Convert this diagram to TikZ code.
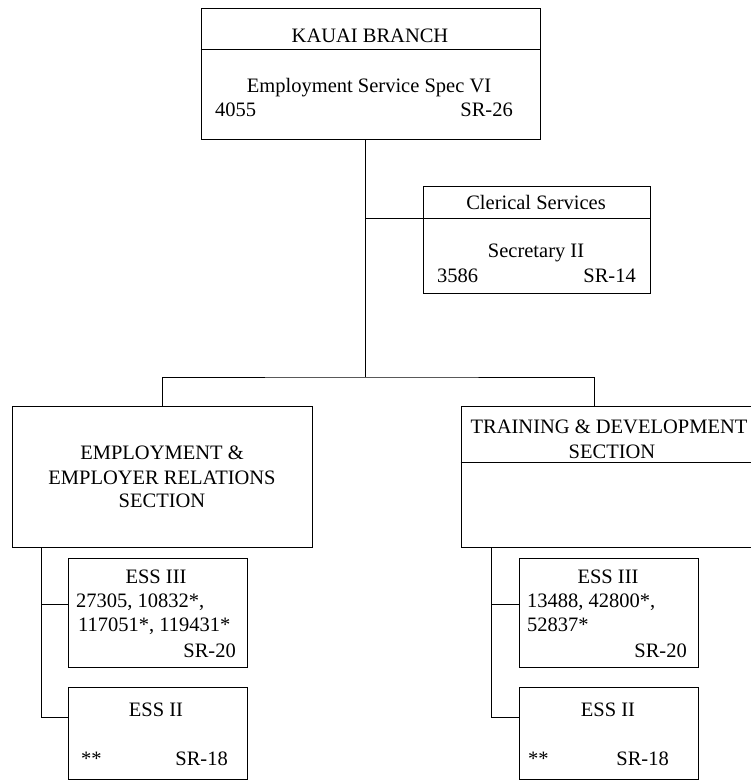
\documentclass[tikz,border=0pt]{standalone}
\usepackage{fontspec}
\setmainfont{Liberation Serif}
\begin{document}
\begin{tikzpicture}[x=1pt,y=-1pt,
  box/.style={draw, line width=0.9pt, inner sep=0pt, rectangle},
  conn/.style={line width=0.9pt},
  txt/.style={inner sep=0pt, font=\fontsize{20.5}{24}\selectfont}]
\useasboundingbox (0,0) rectangle (751,781);
\clip (0,0) rectangle (751,781);
% boxes
\node[box, minimum width=339pt, minimum height=131pt] (top) at (370.5,73.5) {};
\node[box, minimum width=227pt, minimum height=107pt] (cler) at (536.5,239.5) {};
\node[box, minimum width=300pt, minimum height=141pt] (lsec) at (162,476.5) {};
\node[box, minimum width=300pt, minimum height=141pt] (rsec) at (611,476.5) {};
\node[box, minimum width=179pt, minimum height=109pt] (l3) at (157.5,612.5) {};
\node[box, minimum width=179pt, minimum height=92pt] (l2) at (157.5,733) {};
\node[box, minimum width=179pt, minimum height=109pt] (r3) at (608.5,612.5) {};
\node[box, minimum width=179pt, minimum height=92pt] (r2) at (608.5,733) {};
% divider levels
\coordinate (dtop) at (0,49);
\coordinate (dcl) at (365,218);
\coordinate (drs) at (0,462);
\draw[conn] (top.west |- dtop) -- (top.east |- dtop);
\draw[conn] (cler.west |- dcl) -- (cler.east |- dcl);
\draw[conn] (rsec.west |- drs) -- (rsec.east |- drs);
% connectors
\coordinate (jm) at (365,377);
\coordinate (rd) at (594,406);
\draw[conn] (top.south -| jm) -- (jm);
\draw[conn] (dcl) -- (cler.west |- dcl);
\draw[conn] (lsec.north) |- (jm) -| (rd);
\coordinate (lv) at (41,547);
\coordinate (la) at (41,604);
\coordinate (lb) at (41,717);
\draw[conn] (lv) -- (lb) -- (lb -| l2.west);
\draw[conn] (la) -- (la -| l3.west);
\coordinate (rv) at (491,547);
\coordinate (ra) at (491,604);
\coordinate (rb) at (491,717);
\draw[conn] (rv) -- (rb) -- (rb -| r2.west);
\draw[conn] (ra) -- (ra -| r3.west);
% texts: top box
\node[txt, anchor=base] (t1) at (370,43) {KAUAI BRANCH};
\node[txt, anchor=base] (t2) at (369,93) {Employment Service Spec VI};
\node[txt, anchor=base west] (t3) at (215,117) {4055};
\node[txt, anchor=base east] (t4) at (513,117) {SR-26};
% clerical
\node[txt, anchor=base] (t5) at (536,209) {Clerical Services};
\node[txt, anchor=base] (t6) at (536,257) {Secretary II};
\node[txt, anchor=base west] (t7) at (437,282) {3586};
\node[txt, anchor=base east] (t8) at (636,282) {SR-14};
% left section
\node[txt, anchor=base] (t9) at (162,459) {EMPLOYMENT \&};
\node[txt, anchor=base] (t10) at (162,484) {EMPLOYER RELATIONS};
\node[txt, anchor=base] (t11) at (162,507) {SECTION};
% right section
\node[txt, anchor=base] (t12) at (609,433) {TRAINING \& DEVELOPMENT};
\node[txt, anchor=base] (t13) at (612,458) {SECTION};
% left ESS III
\node[txt, anchor=base] (t14) at (156,583) {ESS III};
\node[txt, anchor=base west] (t15) at (76,607) {27305, 10832*,};
\node[txt, anchor=base west] (t16) at (78,631) {117051*, 119431*};
\node[txt, anchor=base east] (t17) at (236,657) {SR-20};
% left ESS II
\node[txt, anchor=base] (t18) at (156,716) {ESS II};
\node[txt, anchor=base west] (t19) at (81,765) {**};
\node[txt, anchor=base east] (t20) at (228,765) {SR-18};
% right ESS III
\node[txt, anchor=base] (t21) at (608,583) {ESS III};
\node[txt, anchor=base west] (t22) at (527,607) {13488, 42800*,};
\node[txt, anchor=base west] (t23) at (527,631) {52837*};
\node[txt, anchor=base east] (t24) at (687,657) {SR-20};
% right ESS II
\node[txt, anchor=base] (t25) at (608,716) {ESS II};
\node[txt, anchor=base west] (t26) at (528,765) {**};
\node[txt, anchor=base east] (t27) at (669,765) {SR-18};
\end{tikzpicture}
\end{document}
